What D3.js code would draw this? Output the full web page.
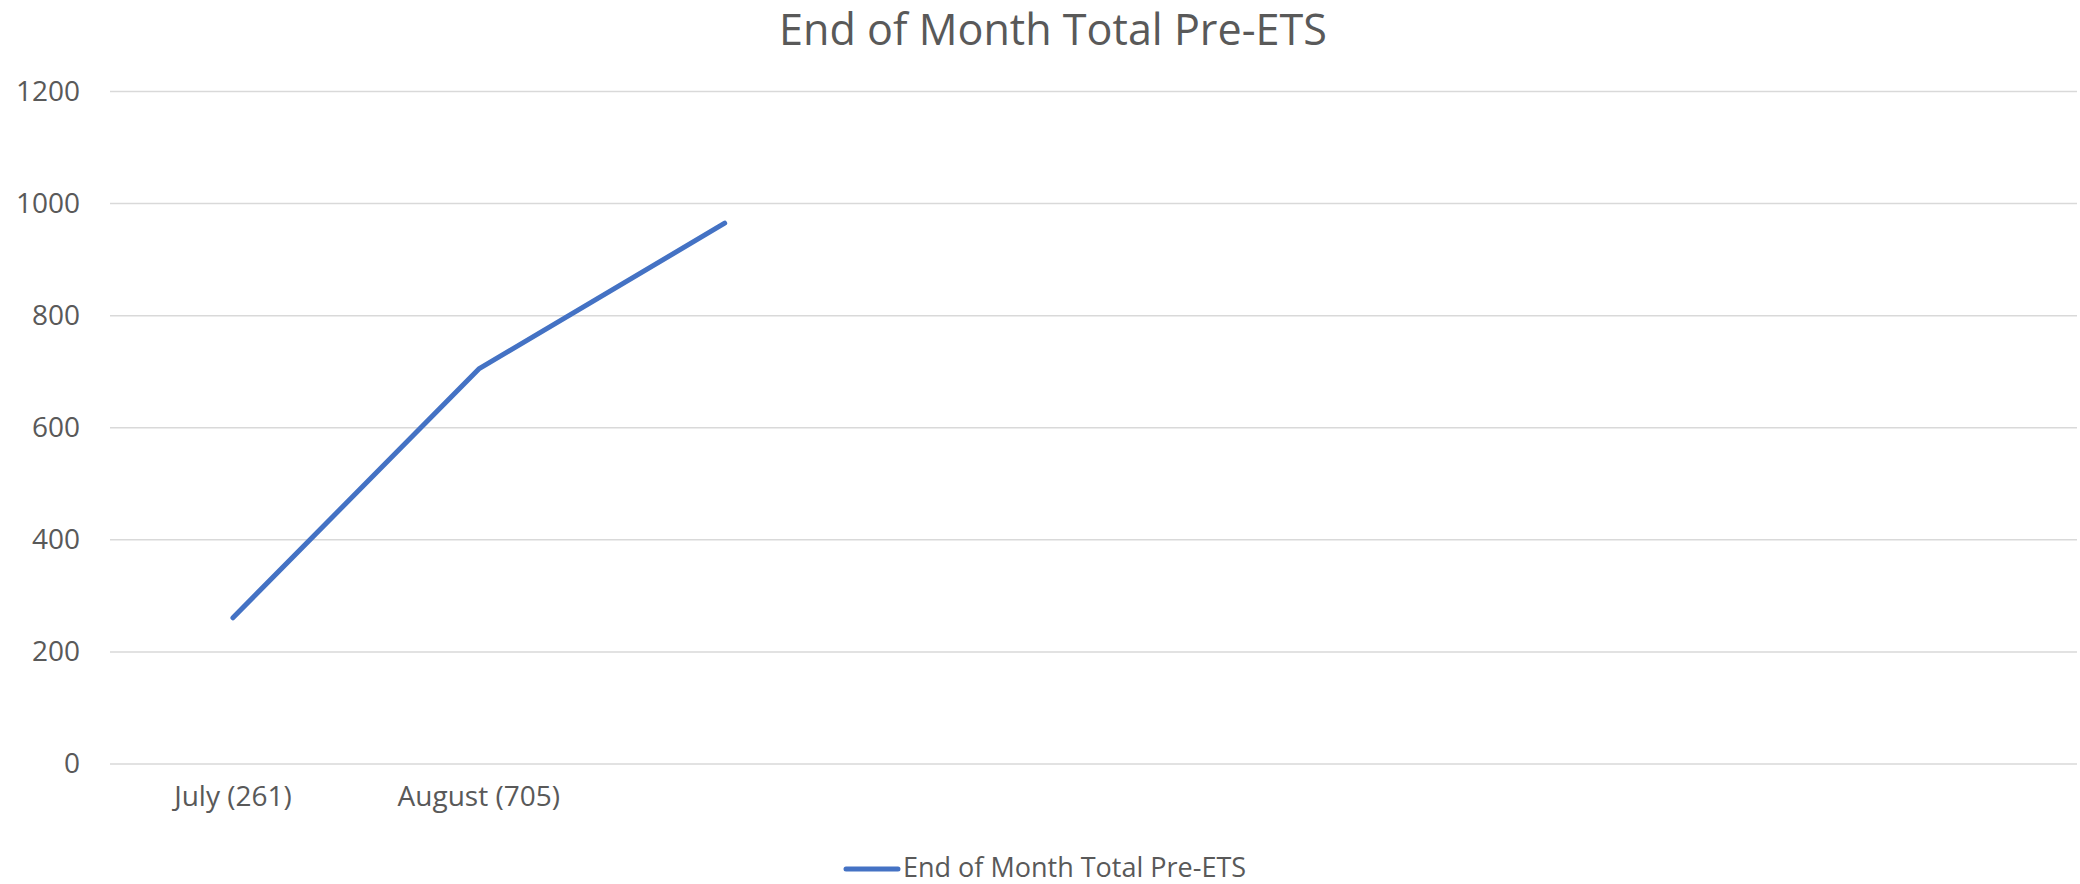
<!DOCTYPE html>
<html lang="en">
  <head>
    <meta charset="utf-8">
    <title>End of Month Total Pre-ETS</title>
    <script src="https://d3js.org/d3.v7.min.js"></script>
    <style>
      body { margin: 0; background: #fff; }
      text { font-family: "Open Sans", sans-serif; fill: #595959; }
    </style>
  </head>
  <body>
    <svg id="chart" width="2080" height="884"></svg>
    <script type="text/javascript">
      // data
      var categories = ["Jul", "Aug", "Sep", "Oct", "Nov", "Dec", "Jan", "Feb"];
      var catLabels = ["July (261)", "August (705)", "", "", "", "", "", ""];
      var totals = [261, 705, 965, null, null, null, null, null];
      var yTicks = [0, 200, 400, 600, 800, 1000, 1200];
      var seriesName = "End of Month Total Pre-ETS";
      var chartTitle = "End of Month Total Pre-ETS";

      var svg = d3.select("svg#chart");
      var plotLeft = 110, plotRight = 2077, plotTop = 91.5, plotBottom = 764;

      var xScale = d3.scaleBand().domain(categories).range([plotLeft, plotRight]);
      var yScale = d3.scaleLinear().domain([0, 1200]).range([plotBottom, plotTop]);

      // gridlines
      svg.append("g").attr("id", "grid")
        .selectAll("line").data(yTicks).enter().append("line")
        .attr("x1", plotLeft).attr("x2", plotRight)
        .attr("y1", d => yScale(d)).attr("y2", d => yScale(d))
        .attr("stroke", "#d9d9d9").attr("stroke-width", 1.5);

      // y axis labels
      var yAxis = d3.axisLeft(yScale).tickValues(yTicks).tickSize(0).tickPadding(30)
        .tickFormat(d3.format("d"));
      var yg = svg.append("g").attr("transform", "translate(" + plotLeft + ",0)").call(yAxis);
      yg.select(".domain").remove();
      yg.selectAll("text").style("font-size", "28px").attr("fill", "#595959")
        .style("font-family", "'Open Sans', sans-serif");

      // x axis labels
      var xAxis = d3.axisBottom(xScale).tickSize(0).tickPadding(22)
        .tickFormat((d, i) => catLabels[i]);
      var xg = svg.append("g").attr("transform", "translate(0," + plotBottom + ")").call(xAxis);
      xg.select(".domain").remove();
      xg.selectAll("text").style("font-size", "28px").attr("fill", "#595959")
        .style("font-family", "'Open Sans', sans-serif");

      // the line
      var line = d3.line()
        .defined(d => d.v != null)
        .x(d => xScale(d.c) + xScale.bandwidth() / 2)
        .y(d => yScale(d.v));
      var pts = categories.map((c, i) => ({c: c, v: totals[i]}));
      svg.append("path").datum(pts)
        .attr("d", line)
        .attr("fill", "none").attr("stroke", "#4472c4")
        .attr("stroke-width", 5)
        .attr("stroke-linecap", "round").attr("stroke-linejoin", "round");

      // title, sized to the width seen in the reference
      var title = svg.append("text").attr("x", 1053).attr("y", 45)
        .attr("text-anchor", "middle").style("font-size", "100px").text(chartTitle);
      var tw = title.node().getComputedTextLength();
      title.style("font-size", (100 * 548 / tw) + "px");

      // legend
      var legend = svg.append("g");
      legend.append("line").attr("x1", 846).attr("x2", 898).attr("y1", 869).attr("y2", 869)
        .attr("stroke", "#4472c4").attr("stroke-width", 5).attr("stroke-linecap", "round");
      legend.append("text").attr("x", 903).attr("y", 877).style("font-size", "27px").text(seriesName);
    </script>
  </body>
</html>
